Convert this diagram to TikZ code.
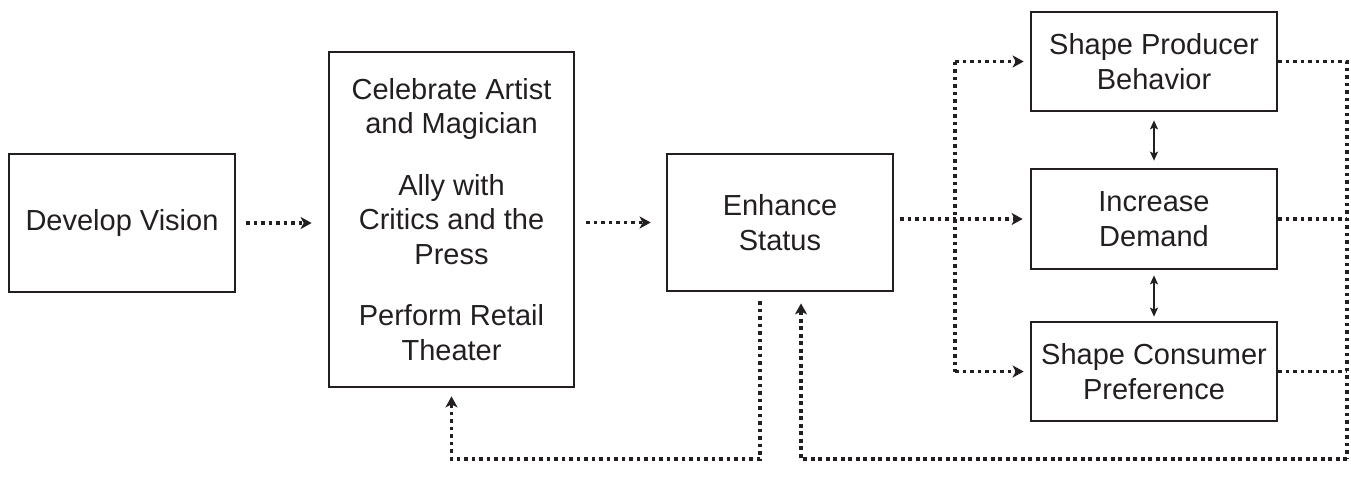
\documentclass[tikz,border=0pt]{standalone}
\usepackage{fontspec}
\setmainfont{Liberation Sans}
\usetikzlibrary{arrows.meta}
\definecolor{ink}{HTML}{231F20}
\tikzset{
  box/.style={draw=ink, line width=2.7pt, inner sep=0pt, align=center,
    text=ink, font=\fontsize{29}{34.5}\selectfont},
  flow/.style={draw=ink, line width=3.4pt, dash pattern=on 3.6pt off 3.9pt},
  flowarrow/.style={flow, -{Stealth[length=11pt,width=12pt,inset=3pt]}},
  link/.style={draw=ink, line width=2pt,
    {Stealth[length=9pt,width=8pt,inset=2pt]}-{Stealth[length=9pt,width=8pt,inset=2pt]}}
}
\begin{document}
\begin{tikzpicture}[x=1pt, y=-1pt]
\useasboundingbox (0,0) rectangle (1351,480);

% main boxes
\node[box, minimum width=226pt, minimum height=138pt] (dev) at (122,223) {Develop Vision};
\node[box, minimum width=245pt, minimum height=335pt] (mid) at (451.5,219.5)
  {Celebrate Artist\\and Magician\\[27pt]Ally with\\Critics and the\\Press\\[27pt]Perform Retail\\Theater};
\node[box, minimum width=226pt, minimum height=137pt] (enh) at (780,222.5) {Enhance\\Status};
\node[box, minimum width=246pt, minimum height=99pt] (prod) at (1154,61.5) {Shape Producer\\Behavior};
\node[box, minimum width=246pt, minimum height=100pt] (dem) at (1154,219) {Increase\\Demand};
\node[box, minimum width=246pt, minimum height=99pt] (cons) at (1154,371.5) {Shape Consumer\\Preference};

% routing points
\coordinate (br) at (955,0);
\coordinate (rt) at (1347,0);
\coordinate (low) at (0,459);
\coordinate (fbA) at (760,0);
\coordinate (fbB) at (801,0);

% forward flow
\draw[flowarrow] ([xshift=10pt]dev.east) -- ([xshift=-16pt]dev.east -| mid.west);
\draw[flowarrow] ([xshift=11pt]mid.east |- enh.west) -- ([xshift=-15pt]enh.west);
\draw[flowarrow] ([xshift=6pt]enh.east |- dem.west) -- ([xshift=-7pt]dem.west);
\draw[flow] (br |- prod.west) -- (br |- cons.west);
\draw[flowarrow] (br |- prod.west) -- ([xshift=-6pt]prod.west);
\draw[flowarrow] (br |- cons.west) -- ([xshift=-6pt]cons.west);

% links between the outcome boxes
\draw[link] ([yshift=-8pt]prod.south) -- ([yshift=7pt]dem.north);
\draw[link] ([yshift=-5pt]dem.south) -- ([yshift=4pt]cons.north);

% feedback loops
\draw[flow] (prod.east) -- (rt |- prod.east) -- (rt |- low);
\draw[flow] (dem.east) -- (rt |- dem.east);
\draw[flow] (cons.east) -- (rt |- cons.east);
\draw[flowarrow] (rt |- low) -- (fbB |- low) -- ([yshift=-11pt]enh.south -| fbB);
\draw[flowarrow] ([yshift=-9pt]enh.south -| fbA) -- (fbA |- low) -- (mid.south |- low) -- ([yshift=-8pt]mid.south);
\end{tikzpicture}
\end{document}
